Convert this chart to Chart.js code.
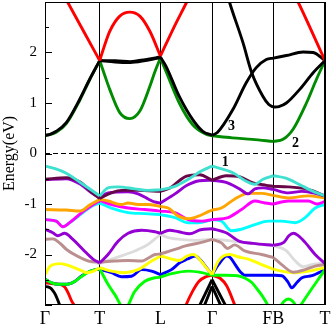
<!DOCTYPE html>
<html>
<head>
<meta charset="utf-8">
<script src="https://cdn.jsdelivr.net/npm/chart.js@4.4.1/dist/chart.umd.min.js"></script>
<style>
html,body{margin:0;padding:0;background:#fff;overflow:hidden;}
#wrap{width:332px;height:327px;}
</style>
</head>
<body>
<div id="wrap"><canvas id="c" width="332" height="327"></canvas></div>
<script>
// k-path (high-symmetry points) and tick labels
const kTicks = [0, 54.5, 115, 166.5, 227.5, 279];
const kLabels = ['Γ', 'T', 'L', 'Γ', 'FB', 'T'];
const eTicks = [-2, -1, 0, 1, 2];
const eMin = -3, eMax = 3;

// band annotations
const noteText = ['1', '2', '3'];
const noteK = [179.7, 249.5, 185.8];
const noteE = [-0.17, 0.20, 0.53];

// Fermi level
const fermi = [[0, 0], [279, 0]];

// conduction bands [k, E(eV)]
const cbRed = [[10,3.45],[22.5,3.0],[39,2.4],[54.5,1.84],[59.5,2.15],[64.5,2.42],[74.5,2.72],[84.5,2.80],[94.5,2.72],[104.5,2.42],[115,1.93],[128,2.48],[141.2,3.0],[146,3.2],null,[247,3.2],[252.2,3.0],[279,1.84]];
const cbBlack1 = [[0,0.36],[5,0.38],[11.2,0.44],[21.2,0.61],[34.5,1.07],[44.5,1.47],[54.5,1.84],[70,1.84],[85,1.82],[100,1.86],[115,1.91],[120.5,1.73],[133.8,1.13],[147.2,0.67],[157.2,0.44],[166.5,0.36],[172,0.42],[187.2,0.87],[200.5,1.40],[210.5,1.70],[220.5,1.86],[227.5,1.89],[240.5,1.94],[257.2,2.01],[267.2,2.0],[279,1.84]];
const cbBlack1b = [[54.5,1.84],[70,1.81],[85,1.80],[100,1.84],[115,1.90]];
const cbBlack2 = [[181,3.2],[183.8,3.0],[197.2,2.2],[206,1.6],[217.2,1.13],[223,0.97],[227.5,0.92],[233,0.93],[240.5,1.0],[253.8,1.27],[267.2,1.6],[279,1.84]];
const cbGreen = [[0,0.35],[11.2,0.42],[21.2,0.59],[34.5,1.05],[44.5,1.46],[54.5,1.84],[59.5,1.55],[64.5,1.27],[74.5,0.81],[84.5,0.69],[94.5,0.84],[104.5,1.33],[109.5,1.62],[115,1.89],[120.5,1.63],[133.8,1.0],[147.2,0.57],[160.5,0.38],[166.5,0.35],[186.5,0.31],[206.5,0.28],[227.5,0.24],[237.2,0.28],[247.2,0.48],[260.5,1.0],[270.5,1.47],[279,1.84]];

// valence bands [k, E(eV)]
const vbTurq = [[0,-0.25],[10,-0.30],[21.2,-0.39],[37.8,-0.61],[54.5,-0.84],[62.8,-0.68],[72.8,-0.66],[89.5,-0.70],[102.8,-0.73],[115,-0.72],[129.5,-0.65],[142.8,-0.51],[156.2,-0.34],[166.5,-0.25],[187.2,-0.38],[200.5,-0.55],[208.8,-0.61],[217.2,-0.51],[227.5,-0.44],[240,-0.49],[254,-0.62],[265,-0.73],[279,-0.84]];
const vbMaroon = [[0,-0.51],[21.2,-0.48],[34.5,-0.56],[47.8,-0.79],[54.5,-0.89],[66.2,-0.78],[76.2,-0.73],[92.8,-0.73],[115,-0.75],[125,-0.68],[135,-0.52],[141,-0.45],[154,-0.42],[166.5,-0.53],[180.5,-0.44],[193.8,-0.46],[207.2,-0.58],[220.5,-0.63],[227.5,-0.65],[242.5,-0.66],[262.5,-0.71],[279,-0.84]];
const vbViolet1 = [[0,-0.52],[21.2,-0.50],[34.5,-0.60],[47.8,-0.80],[54.5,-0.87],[62.8,-0.78],[82.8,-0.76],[92.8,-0.80],[102.8,-0.90],[109,-0.96],[115,-0.98],[129.5,-0.80],[141.5,-0.63],[154,-0.54],[166.5,-0.53],[180.5,-0.57],[193.8,-0.70],[202.5,-0.80],[209.2,-0.70],[217.2,-0.68],[227.5,-0.71],[242.5,-0.78],[255.8,-0.75],[267,-0.78],[279,-0.84]];
const vbOrange = [[0,-1.11],[21.2,-1.12],[34.5,-1.14],[44.5,-1.02],[54.5,-0.91],[62.8,-0.94],[76.2,-1.01],[82.8,-0.98],[92.8,-1.01],[102.8,-1.01],[115,-1.05],[122.8,-1.08],[132.8,-1.24],[142.8,-1.29],[152.8,-1.24],[162.8,-1.15],[166.5,-1.12],[175.8,-1.08],[189.2,-0.90],[202.5,-0.79],[215.8,-0.79],[227.5,-0.83],[242.5,-0.88],[262.5,-0.84],[279,-0.88]];
const vbMagenta = [[0,-1.31],[11.2,-1.34],[17.8,-1.45],[24.5,-1.37],[37.8,-1.15],[54.5,-0.93],[66.2,-1.01],[82.8,-1.08],[99.5,-1.11],[115,-1.14],[129.5,-1.17],[142.8,-1.31],[156.2,-1.34],[166.5,-1.31],[182.5,-1.27],[195.8,-1.11],[209.2,-0.94],[219.2,-0.98],[227.5,-1.0],[242.5,-0.94],[262.5,-0.94],[271,-1.0],[279,-0.95]];
const vbCyan = [[0,-1.31],[11.2,-1.34],[17.8,-1.45],[24.5,-1.37],[37.8,-1.17],[47,-1.04],[54.5,-0.98],[66.2,-1.08],[82.8,-1.17],[99.5,-1.19],[115,-1.21],[129.5,-1.27],[142.8,-1.37],[152.8,-1.37],[166.5,-1.31],[175.8,-1.34],[185.8,-1.53],[195.8,-1.50],[209.2,-1.41],[222.5,-1.34],[227.5,-1.34],[235.8,-1.34],[249.2,-1.37],[259.2,-1.27],[269.2,-1.08],[279,-1.01]];
const vbViolet2 = [[0,-1.50],[7.8,-1.57],[12.8,-1.63],[19.5,-1.58],[27.8,-1.70],[37.8,-1.90],[47.8,-2.09],[54.5,-2.17],[62.8,-2.0],[72.8,-1.74],[82.8,-1.58],[96.2,-1.52],[109.5,-1.55],[115,-1.58],[124,-1.52],[133,-1.55],[144,-1.59],[155,-1.51],[166.5,-1.49],[180.5,-1.57],[193.8,-1.74],[207.2,-1.78],[227.5,-1.82],[238,-1.76],[243,-1.63],[247.5,-1.58],[252,-1.62],[259.2,-1.76],[269.2,-2.0],[279,-2.18]];
const vbGray = [[0,-1.70],[8,-1.69],[15,-1.78],[22,-1.91],[32,-2.03],[43.5,-2.13],[54.5,-2.18],[69.5,-2.07],[89.5,-1.93],[102.8,-1.80],[109,-1.70],[115,-1.60],[122,-1.66],[135,-1.70],[150,-1.72],[166.5,-1.70],[180.5,-1.72],[200.5,-1.77],[220.5,-1.80],[227.5,-1.82],[240,-1.92],[249,-2.12],[257,-2.24],[266,-2.20],[279,-2.17]];
const vbBrown = [[0,-1.70],[8,-1.69],[15,-1.78],[22,-1.91],[32,-2.03],[43.5,-2.13],[54.5,-2.15],[69.5,-2.13],[82.8,-2.12],[96.2,-2.13],[109.5,-2.0],[115,-1.99],[129.5,-1.90],[140,-1.83],[156,-1.76],[166.5,-1.70],[175.8,-1.77],[182,-1.88],[189,-1.81],[199,-1.93],[215.8,-2.0],[227.5,-2.06],[235.8,-2.20],[247.5,-2.35],[259.2,-2.30],[269.2,-2.23],[279,-2.20]];
const vbYellow = [[0,-2.40],[5.2,-2.23],[15.2,-2.18],[25.2,-2.23],[35.2,-2.31],[41.8,-2.36],[48.5,-2.33],[54.5,-2.26],[66.2,-2.33],[79.5,-2.36],[92.8,-2.30],[106.2,-2.13],[115,-2.03],[123,-2.07],[134,-2.12],[141.5,-2.03],[147.8,-2.0],[152.8,-2.07],[159.5,-2.23],[166.5,-2.40],[172.8,-2.13],[177.8,-2.03],[184.5,-2.0],[193,-2.05],[202.5,-2.09],[215.8,-2.20],[227.5,-2.29],[235.8,-2.33],[249.2,-2.36],[262.5,-2.33],[279,-2.26]];
const vbBlue = [[0,-2.49],[6.7,-2.56],[13.3,-2.59],[21.7,-2.59],[30,-2.53],[36,-2.43],[42,-2.36],[48.5,-2.31],[54.5,-2.29],[66.2,-2.36],[76.2,-2.44],[86.2,-2.43],[96.2,-2.30],[106.2,-2.33],[115,-2.40],[126,-2.30],[134.5,-2.16],[142,-2.09],[149.5,-2.03],[154.5,-2.10],[161,-2.26],[166.5,-2.40],[172.8,-2.20],[181.2,-2.03],[184.5,-2.06],[189.5,-2.20],[194.5,-2.34],[199.5,-2.41],[215,-2.41],[227.5,-2.41],[236,-2.42],[242,-2.54],[245.8,-2.66],[250.8,-2.56],[256,-2.46],[266,-2.42],[279,-2.30]];
const vbGreen = [[0,-2.49],[6.7,-2.56],[13.3,-2.59],[21.7,-2.59],[30,-2.53],[36.7,-2.43],[45.2,-2.33],[54.5,-2.28],[62.8,-2.59],[69.5,-2.79],[79.5,-3.08],[89.5,-2.73],[99.5,-2.53],[109.5,-2.46],[115,-2.45],[126.2,-2.38],[142.8,-2.33],[156.2,-2.36],[166.5,-2.41],[180,-2.41],[192,-2.42],[199.5,-2.47],[205.8,-2.55],[210,-2.65],[215.8,-2.80],[222.5,-3.02],[225,-3.12],null,[252,-3.1],[255,-3.0],[279,-2.30]];
const vbGreen2 = [[232,-3.15],[235,-3.02],[238,-2.93],[242.5,-2.88],[247,-2.93],[250,-3.02],[253,-3.15]];
const vbRed = [[0,-2.56],[8.5,-2.58],[15,-2.59],[20,-2.65],[23.5,-2.78],[26.5,-2.92],[29.5,-3.02],[31,-3.1],null,[138.5,-3.1],[140.5,-3.0],[147,-2.73],[153.5,-2.53],[160.5,-2.44],[166.5,-2.41],[174.5,-2.47],[181,-2.62],[187.5,-2.92],[190,-3.05],[192,-3.15]];
const vbBlack = [[0,-2.63],[5,-2.66],[8,-2.72],[10.5,-2.80],[15,-3.02],[16.5,-3.1],null,[152.8,-3.06],[166.5,-2.50],[181.2,-3.06]];
const vbBlackB = [[157.8,-3.06],[166.5,-2.63],[176.2,-3.06]];

// drawing order: bottom first
const bands = [
  [cbGreen, '#008b00'], [cbBlack1b, '#000000'], [cbBlack1, '#000000'], [cbBlack2, '#000000'], [cbRed, '#ff0000'],
  [vbBlackB, '#000000'], [vbBlack, '#000000'], [vbRed, '#ff0000'], [vbGreen2, '#00ff00'],
  [vbBlue, '#0000ff'], [vbGreen, '#00ff00'], [vbYellow, '#ffff00'],
  [vbGray, '#dcdcdc'], [vbBrown, '#bc8f8f'], [vbViolet2, '#9400d3'],
  [vbCyan, '#00ffff'], [vbMagenta, '#ff00ff'], [vbOrange, '#ffa500'],
  [vbViolet1, '#9400d3'], [vbMaroon, '#670748'], [vbTurq, '#40e0d0']
];

// split a band into pieces at internal high-symmetry points and at null breaks
function pieces(points) {
  const out = []; let cur = [];
  const inner = kTicks.slice(1, -1);
  for (const p of points) {
    if (p === null) { if (cur.length > 1) out.push(cur); cur = []; continue; }
    cur.push(p);
    if (cur.length > 1 && inner.includes(p[0])) { out.push(cur); cur = [p]; }
  }
  if (cur.length > 1) out.push(cur);
  return out;
}

const datasets = [];
bands.forEach(([pts, col]) => {
  pieces(pts).forEach(seg => {
    datasets.push({
      data: seg.map(([x, y]) => ({x, y})),
      borderColor: col, borderWidth: 2.9, pointRadius: 0, fill: false,
      cubicInterpolationMode: 'monotone', clip: 0
    });
  });
});
datasets.push({
  data: fermi.map(([x, y]) => ({x, y})),
  borderColor: '#000', borderWidth: 1, borderDash: [5, 3], pointRadius: 0, fill: false, tension: 0, clip: 0
});
datasets.forEach((d, i) => { d.order = -i; });

const serif = "'Liberation Serif', 'Times New Roman', serif";

const framePlugin = {
  id: 'frame',
  afterDatasetsDraw(chart) {
    const {ctx, chartArea: a, scales: {x, y}} = chart;
    ctx.save();
    ctx.strokeStyle = '#000';
    ctx.lineWidth = 1;
    ctx.strokeRect(a.left + 0.5, a.top + 0.5, a.right - a.left - 1, a.bottom - a.top - 1);
    ctx.beginPath();
    for (let v = eMin; v <= eMax; v += 0.5) {
      const py = Math.round(y.getPixelForValue(v)) + 0.5;
      const len = Number.isInteger(v) ? 7 : 4;
      ctx.moveTo(a.left, py); ctx.lineTo(a.left + len, py);
    }
    ctx.stroke();
    ctx.fillStyle = '#000';
    ctx.font = 'bold 14px ' + serif;
    ctx.textAlign = 'center';
    ctx.textBaseline = 'middle';
    noteText.forEach((t, i) => {
      ctx.fillText(t, x.getPixelForValue(noteK[i]), y.getPixelForValue(noteE[i]));
    });
    ctx.restore();
  }
};

new Chart(document.getElementById('c'), {
  type: 'line',
  data: { datasets },
  options: {
    responsive: false,
    animation: false,
    events: [],
    layout: { padding: { top: 2, right: 7, left: 0, bottom: 0 } },
    plugins: { legend: { display: false }, tooltip: { enabled: false } },
    scales: {
      x: {
        type: 'linear', min: kTicks[0], max: kTicks[kTicks.length - 1],
        afterBuildTicks(scale) { scale.ticks = kTicks.map(v => ({ value: v })); },
        afterFit(scale) { scale.height = 22; scale.paddingLeft = 0; scale.paddingRight = 0; },
        ticks: {
          autoSkip: false, maxRotation: 0, minRotation: 0, padding: 3,
          color: '#000', font: { family: serif, size: 18 },
          callback: (v, i) => kLabels[i]
        },
        grid: { display: true, color: '#000', lineWidth: 1, drawTicks: false },
        border: { display: false }
      },
      y: {
        type: 'linear', min: eMin, max: eMax,
        afterBuildTicks(scale) { scale.ticks = eTicks.map(v => ({ value: v })); },
        afterFit(scale) { scale.width = 45; scale.paddingTop = 0; scale.paddingBottom = 0; },
        ticks: {
          padding: 8, color: '#000', font: { family: serif, size: 15 },
          callback: v => String(v)
        },
        grid: { display: false, drawTicks: false },
        border: { display: false },
        title: { display: true, text: 'Energy(eV)', color: '#000', font: { family: serif, size: 16 }, padding: 0 }
      }
    }
  },
  plugins: [framePlugin]
});
</script>
</body>
</html>
